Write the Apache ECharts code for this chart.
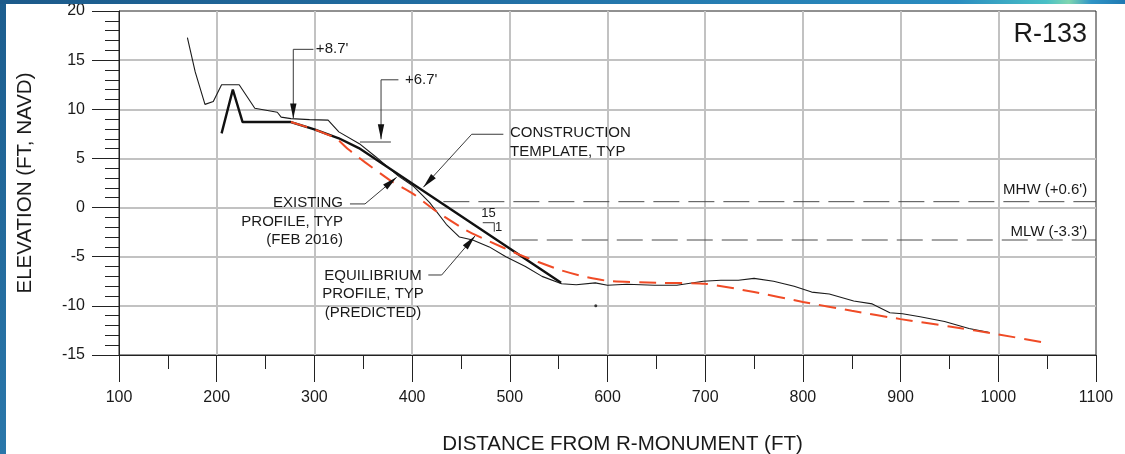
<!DOCTYPE html>
<html>
<head>
<meta charset="utf-8">
<title>R-133 Beach Profile</title>
<script src="https://cdn.jsdelivr.net/npm/echarts@6/dist/echarts.min.js"></script>
<style>
  html, body { margin: 0; padding: 0; background: #ffffff; }
  #chart { width: 1125px; height: 454px; }
</style>
</head>
<body>
<div id="chart"></div>
<script>
// ---- Axis ticks ----
const xTicks = [100, 200, 300, 400, 500, 600, 700, 800, 900, 1000, 1100];
const yTicks = [-15, -10, -5, 0, 5, 10, 15, 20];

// ---- Profiles: [distance (ft), elevation (ft NAVD)] ----
const existingProfile = [
  [170, 17.3], [178, 13.8], [188, 10.5], [196.5, 10.8], [205, 12.5], [223, 12.5],
  [239, 10.1], [262, 9.7], [266, 9.2], [276, 9.05], [295, 8.95], [314, 8.9],
  [325, 7.7], [346, 6.5], [363, 5.15], [386, 3.2], [401, 2.2], [418, 0.5],
  [435, -1.7], [448.5, -3.0], [462, -3.3], [479, -4.0], [496, -5.0], [516, -6.0],
  [533, -7.0], [553, -7.75], [568, -7.85], [587.5, -7.66], [600, -7.9], [620, -7.8],
  [648, -7.9], [671, -7.9], [698, -7.5], [716, -7.4], [734, -7.4], [750, -7.2],
  [770, -7.5], [791, -8.0], [809, -8.6], [827, -8.8], [852, -9.5], [871, -9.8],
  [889, -10.7], [902, -10.8], [920, -11.1], [945, -11.6], [970, -12.3], [990, -12.7]
];
const constructionTemplate = [
  [205, 7.55], [216.5, 12.0], [226.5, 8.7], [276, 8.7], [300, 7.95], [325, 7.05],
  [345.5, 6.05], [552.5, -7.65]
];
const equilibriumProfile = [
  [276, 8.7], [300, 7.95], [322, 7.05], [335, 5.9], [352, 4.6], [380, 2.6],
  [401, 1.4], [425, -0.4], [455, -2.3], [476, -3.3], [510, -4.8], [550, -6.3],
  [575, -7.0], [600, -7.45], [650, -7.65], [700, -7.75], [750, -8.6], [800, -9.6],
  [850, -10.5], [900, -11.35], [950, -12.1], [1000, -12.9], [1050, -13.8]
];
const strayPoint = [[588, -10]];

// ---- Tidal datums ----
const mhwLine = [[432, 0.6], [1100, 0.6]];
const mlwLine = [[502, -3.3], [1100, -3.3]];

// ---- Callout leaders (data coordinates) ----
const leaders = [
  { pts: [[299, 16.1], [278.4, 16.1], [278.4, 9.05]], arrow: true },
  { pts: [[386, 13.0], [368.2, 13.0], [368.2, 6.95]], arrow: true },
  { pts: [[346.6, 6.67], [378.3, 6.67]], arrow: false },
  { pts: [[493.4, 7.46], [461, 7.46], [411.5, 2.07]], arrow: true },
  { pts: [[336.4, 0.37], [351.8, 0.37], [384.2, 3.08]], arrow: true },
  { pts: [[416.6, -6.86], [430.3, -6.86], [464.4, -2.89]], arrow: true },
  { pts: [[472.3, -1.54], [484.1, -1.54], [484.1, -2.45]], arrow: false }
];

// ---- Callout texts ----
const notes = [
  { text: "+8.7'", at: [301.5, 16.1], align: 'left', size: 15 },
  { text: "+6.7'", at: [392.7, 13.0], align: 'left', size: 15 },
  { text: 'CONSTRUCTION\nTEMPLATE, TYP', at: [500.2, 6.62], align: 'left', size: 15 },
  { text: 'EXISTING\nPROFILE, TYP\n(FEB 2016)', at: [329.3, -1.43], align: 'right', size: 15 },
  { text: 'EQUILIBRIUM\nPROFILE, TYP\n(PREDICTED)', at: [360, -8.8], align: 'center', size: 15 },
  { text: 'MHW (+0.6\')', at: [1091, 1.85], align: 'right', size: 15 },
  { text: 'MLW (-3.3\')', at: [1091, -2.5], align: 'right', size: 15 },
  { text: '15', at: [478.2, -0.62], align: 'center', size: 13 },
  { text: '1', at: [488.6, -2.05], align: 'center', size: 13 }
];

const FONT = '"Liberation Sans", Arial, Helvetica, sans-serif';
const INK = '#1a1a1a';

const chart = echarts.init(document.getElementById('chart'), null, { renderer: 'canvas' });

function renderLeader(params, api) {
  const ld = leaders[params.dataIndex];
  const p = ld.pts.map(c => api.coord(c));
  const children = [{
    type: 'polyline',
    shape: { points: p },
    style: { stroke: '#3a3a3a', lineWidth: 1, fill: null }
  }];
  if (ld.arrow) {
    const tip = p[p.length - 1];
    const prev = p[p.length - 2];
    const dx = tip[0] - prev[0], dy = tip[1] - prev[1];
    const len = Math.sqrt(dx * dx + dy * dy);
    const ux = dx / len, uy = dy / len;
    const L = 15, W = 3.2;
    const bx = tip[0] - ux * L, by = tip[1] - uy * L;
    children.push({
      type: 'polygon',
      shape: { points: [tip, [bx - uy * W, by + ux * W], [bx + uy * W, by - ux * W]] },
      style: { fill: '#111', stroke: null }
    });
  }
  return { type: 'group', children };
}

function renderNote(params, api) {
  const n = notes[params.dataIndex];
  const p = api.coord(n.at);
  return {
    type: 'text',
    x: p[0],
    y: p[1],
    style: {
      text: n.text,
      font: n.size + 'px ' + FONT,
      fill: INK,
      align: n.align,
      verticalAlign: 'middle',
      lineHeight: 18.5
    }
  };
}

const option = {
  backgroundColor: '#ffffff',
  animation: false,
  graphic: [
    {
      type: 'rect', left: 0, top: 0, z: 100,
      shape: { width: 6, height: 454 },
      style: {
        fill: new echarts.graphic.LinearGradient(0, 0, 0, 1, [
          { offset: 0, color: '#1c5d8e' },
          { offset: 1, color: '#2a77aa' }
        ])
      }
    },
    {
      type: 'rect', left: 0, top: 0, z: 100,
      shape: { width: 1125, height: 4 },
      style: {
        fill: new echarts.graphic.LinearGradient(0, 0, 1, 0, [
          { offset: 0, color: '#1c5a8a' },
          { offset: 0.45, color: '#2270a5' },
          { offset: 0.85, color: '#2a8cc0' },
          { offset: 0.93, color: '#49c0c6' },
          { offset: 0.95, color: '#7fd6b0' },
          { offset: 0.97, color: '#2f94c6' },
          { offset: 1, color: '#1f78b2' }
        ])
      }
    },
    {
      type: 'text', right: 38, top: 21,
      style: { text: 'R-133', font: '27px ' + FONT, fill: INK }
    }
  ],
  grid: {
    left: 119, right: 29, top: 11, bottom: 99,
    show: true, borderColor: '#222', borderWidth: 1,
    backgroundColor: 'transparent',
    containLabel: false,
    outerBoundsMode: 'none'
  },
  xAxis: {
    type: 'value',
    min: xTicks[0],
    max: xTicks[xTicks.length - 1],
    interval: xTicks[1] - xTicks[0],
    name: 'DISTANCE FROM R-MONUMENT (FT)',
    nameLocation: 'middle',
    nameGap: 79,
    nameTextStyle: { fontFamily: FONT, fontSize: 20.5, color: INK, padding: [0, 0, 0, 30] },
    axisLine: { show: true, onZero: false, lineStyle: { color: '#222', width: 1 } },
    axisTick: { show: true, inside: false, length: 27, lineStyle: { color: '#222', width: 1 } },
    minorTick: { show: true, splitNumber: 2, length: 14, lineStyle: { color: '#222', width: 1 } },
    axisLabel: {
      fontFamily: FONT, fontSize: 16, color: INK, margin: 35,
      formatter: v => String(v)
    },
    splitLine: { show: true, showMinLine: false, showMaxLine: false, lineStyle: { color: '#c2c2c2', width: 2 } }
  },
  yAxis: {
    type: 'value',
    min: yTicks[0],
    max: yTicks[yTicks.length - 1],
    interval: yTicks[1] - yTicks[0],
    name: 'ELEVATION (FT, NAVD)',
    nameLocation: 'middle',
    nameGap: 83,
    nameTextStyle: { fontFamily: FONT, fontSize: 20.5, color: INK },
    axisLine: { show: true, onZero: false, lineStyle: { color: '#222', width: 1 } },
    axisTick: { show: true, inside: false, length: 27, lineStyle: { color: '#222', width: 1 } },
    minorTick: { show: true, splitNumber: 5, length: 14, lineStyle: { color: '#222', width: 1 } },
    axisLabel: {
      fontFamily: FONT, fontSize: 16, color: INK, margin: 34,
      formatter: v => String(v)
    },
    splitLine: { show: true, showMinLine: false, showMaxLine: false, lineStyle: { color: '#c2c2c2', width: 2 } }
  },
  series: [
    {
      name: 'MHW', type: 'line', data: mhwLine, symbol: 'none', silent: true,
      lineStyle: { color: '#4a4a4a', width: 1, type: [26, 9] }, z: 2
    },
    {
      name: 'MLW', type: 'line', data: mlwLine, symbol: 'none', silent: true,
      lineStyle: { color: '#4a4a4a', width: 1, type: [26, 9] }, z: 2
    },
    {
      name: 'Existing Profile (Feb 2016)', type: 'line', data: existingProfile,
      symbol: 'none', lineStyle: { color: '#1a1a1a', width: 1.1 }, z: 3
    },
    {
      name: 'Construction Template', type: 'line', data: constructionTemplate,
      symbol: 'none', lineStyle: { color: '#111', width: 2.4 }, z: 4
    },
    {
      name: 'Equilibrium Profile (Predicted)', type: 'line', data: equilibriumProfile,
      symbol: 'none', smooth: 0.2,
      lineStyle: { color: '#f04b26', width: 2, type: [17, 9] }, z: 5
    },
    {
      name: 'point', type: 'scatter', data: strayPoint, symbolSize: 3,
      itemStyle: { color: '#111' }, z: 5
    },
    {
      name: 'leaders', type: 'custom', renderItem: renderLeader,
      data: leaders.map(l => l.pts[0]), silent: true, z: 6
    },
    {
      name: 'notes', type: 'custom', renderItem: renderNote,
      data: notes.map(n => n.at), silent: true, z: 7
    }
  ]
};

chart.setOption(option);
</script>
</body>
</html>
